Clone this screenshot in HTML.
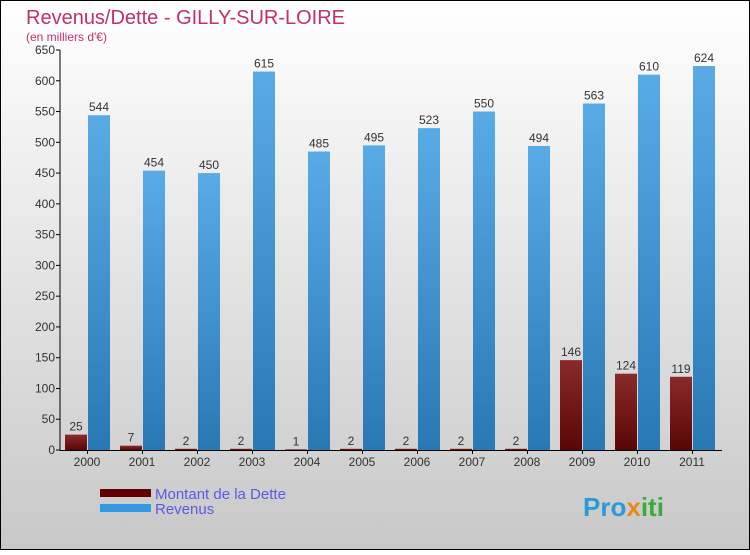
<!DOCTYPE html>
<html><head><meta charset="utf-8"><style>
body{margin:0}svg text{font-family:"Liberation Sans",sans-serif}
</style></head><body>
<svg id="c" width="750" height="550" xmlns="http://www.w3.org/2000/svg">
<defs>
<linearGradient id="bg" x1="0" y1="0" x2="0" y2="1"><stop offset="0" stop-color="#ffffff"/><stop offset="1" stop-color="#c8c8c8"/></linearGradient>
<linearGradient id="gb" x1="0" y1="0" x2="0" y2="1"><stop offset="0" stop-color="#59abe6"/><stop offset="1" stop-color="#2878b4"/></linearGradient>
<linearGradient id="gr" x1="0" y1="0" x2="0" y2="1"><stop offset="0" stop-color="#8a2a2a"/><stop offset="1" stop-color="#5a0606"/></linearGradient>
</defs>
<rect x="0.5" y="0.5" width="749" height="549" fill="url(#bg)" stroke="#000"/>
<text x="26" y="24" font-size="20" fill="#c0306a">Revenus/Dette - GILLY-SUR-LOIRE</text>
<text x="26" y="41" font-size="12" fill="#c0306a">(en milliers d'€)</text>
<g id="plot"></g>
<rect x="100" y="489" width="51" height="8" fill="#600000"/>
<text x="155" y="499" font-size="15" fill="#5a5ae6">Montant de la Dette</text>
<rect x="100" y="504" width="51" height="8" fill="#3399e0"/>
<text x="155" y="514" font-size="15" fill="#5a5ae6">Revenus</text>
<text x="583" y="516" font-size="26" font-weight="bold" fill="#2a9ad8">Pro<tspan fill="#e88a1a">x</tspan><tspan fill="#3aaa3a">iti</tspan></text>
</svg>
<script>
const years=["2000","2001","2002","2003","2004","2005","2006","2007","2008","2009","2010","2011"];
const dette=[25,7,2,2,1,2,2,2,2,146,124,119];
const revenus=[544,454,450,615,485,495,523,550,494,563,610,624];
const ticks=[0,50,100,150,200,250,300,350,400,450,500,550,600,650];
const NS="http://www.w3.org/2000/svg";
const g=document.getElementById('plot');
const y=v=>450-v*400/650;
const gx=i=>65+i*55;
function mk(t,a,txt){const e=document.createElementNS(NS,t);for(const k in a)e.setAttribute(k,a[k]);if(txt!=null)e.textContent=txt;g.appendChild(e);return e;}
ticks.forEach(t=>{
 const l=mk('line',{x1:56,x2:60,y1:y(t),y2:y(t),stroke:'#000'});
 
 
 const tx=mk('text',{x:55,y:y(t)+4,'font-size':12,'text-anchor':'end',fill:'#333'},t);
 
 
});
years.forEach((yr,i)=>{
 const x=gx(i);
 const b1=mk('rect',{x:x,y:y(dette[i]),width:22,height:450-y(dette[i]),fill:'url(#gr)'});
 
 
 const b2=mk('rect',{x:x+23,y:y(revenus[i]),width:22,height:450-y(revenus[i]),fill:'url(#gb)'});
 
 
 const v1=mk('text',{x:x+11,y:y(dette[i])-4,'font-size':12,'text-anchor':'middle',fill:'#333'},dette[i]);
 
 
 const v2=mk('text',{x:x+34,y:y(revenus[i])-4,'font-size':12,'text-anchor':'middle',fill:'#333'},revenus[i]);
 
 
 const xl=mk('text',{x:x+22,y:466,'font-size':12,'text-anchor':'middle',fill:'#333'},yr);
 
 
 const xt=mk('line',{x1:x+22.5,x2:x+22.5,y1:450,y2:454,stroke:'#000'});
 
 
});
const ya=mk('line',{x1:60,x2:60,y1:y(650),y2:450,stroke:'#000'});


const xa=mk('line',{x1:60,x2:722,y1:450.5,y2:450.5,stroke:'#000'});


</script>
</body></html>
